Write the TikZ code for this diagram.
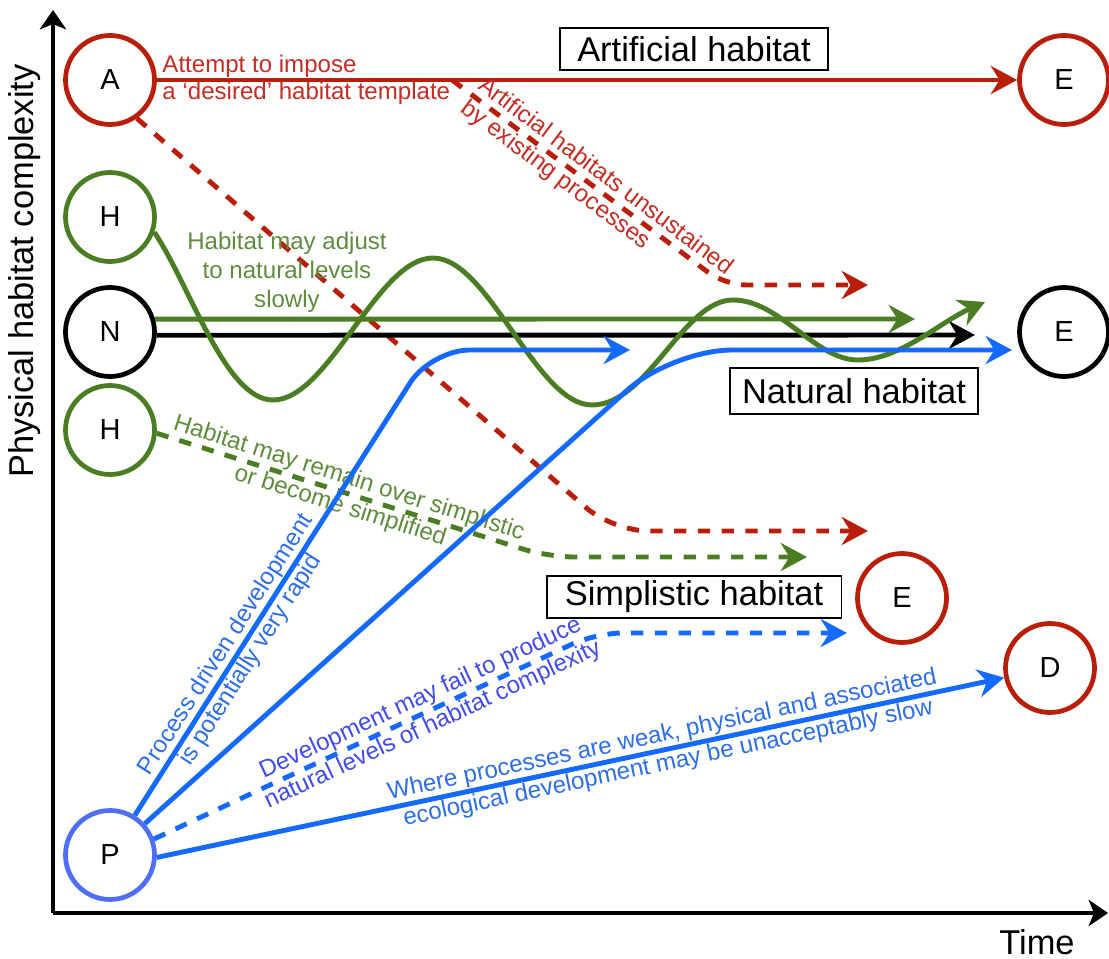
\documentclass[tikz,border=0pt]{standalone}
\usepackage{fontspec}
\setmainfont{Liberation Sans}
\usepackage{tikz}
\usetikzlibrary{arrows.meta, positioning, calc}
\definecolor{habred}{RGB}{185, 30, 10}
\definecolor{habgreen}{RGB}{75, 125, 35}
\definecolor{habblue}{RGB}{20, 105, 255}
\definecolor{procblue}{RGB}{80, 110, 245}
\definecolor{txtred}{RGB}{195, 45, 35}
\definecolor{txtgreen}{RGB}{95, 140, 60}
\definecolor{txtblue}{RGB}{45, 110, 230}
\definecolor{txtviolet}{RGB}{65, 75, 235}

\begin{document}
\begin{tikzpicture}[x=0.02cm, y=-0.02cm,
    state/.style={circle, draw, line width=2.7pt, minimum size=1.78cm,
                  inner sep=0pt, text=black, font=\fontsize{16.5}{18}\selectfont},
    region/.style={draw, line width=1.1pt, minimum height=0.84cm,
                   inner sep=0pt, font=\fontsize{19.6}{23}\selectfont},
    remark/.style={font=\fontsize{13.7}{16.5}\selectfont, align=center, inner sep=1pt},
    track/.style={line width=2.8pt, -{Stealth[length=15pt, width=16pt, inset=5pt]}},
    brokenline/.style={track, dash pattern=on 7pt off 6.5pt},
    axis/.style={line width=2.7pt, -{Stealth[length=11pt, width=15pt, inset=3pt]}}]

\useasboundingbox (0,0) rectangle (1109,959);

% Axes
\coordinate (origin) at (53,913);
\coordinate (ytip) at (53,10);
\coordinate (xtip) at (1108,913);
\draw[axis] (origin) -- (ytip);
\draw[axis] (origin) -- (xtip);
\node[rotate=90, font=\fontsize{19.6}{23}\selectfont] (complexity) at (25,271)
    {Physical habitat complexity};
\node[font=\fontsize{19.6}{23}\selectfont] (time) at (1037,942) {Time};

% Starting states
\node[state, draw=habred] (a) at (110,80) {A};
\node[state, draw=habgreen] (h1) at (110,217) {H};
\node[state, draw=black] (n) at (110,332) {N};
\node[state, draw=habgreen] (h2) at (110,430) {H};
\node[state, draw=procblue] (p) at (110,855) {P};

% End states
\node[state, draw=habred] (etop) at (1064,80) {E};
\node[state, draw=black] (emid) at (1064,332) {E};
\node[state, draw=habred] (elow) at (902,598) {E};
\node[state, draw=habred] (d) at (1050,668) {D};

% Habitat labels
\node[region, minimum width=5.36cm] (artificial) at (694,49) {Artificial habitat};
\node[region, minimum width=4.96cm, minimum height=0.92cm] (natural) at (854,391) {Natural habitat};
\node[region, minimum width=5.9cm] (simplistic) at (694,597) {Simplistic habitat};

% Free arrow ends
\coordinate (split) at (452,80);
\coordinate (fadered) at (868,285);
\coordinate (sinkred) at (868,531);
\coordinate (greentip) at (915,319);
\coordinate (wavetip) at (985,302);
\coordinate (blacktip) at (975,335);
\coordinate (rapidtip) at (630,350);
\coordinate (blueend) at (1012,350);
\coordinate (simplertip) at (807,557);
\coordinate (failtip) at (847,633);

% Artificial route
\draw[track, habred] (a) -- (etop);
\node[remark, text=txtred, align=left, right=2pt of a,
      font=\fontsize{13.7}{15.5}\selectfont] (impose)
    {Attempt to impose\\a `desired' habitat template};
\draw[brokenline, habred, rounded corners=12pt] (split)
    -- node[remark, sloped, align=left, text=txtred, pos=0.53] (unsustained)
       {Artificial habitats unsustained\\by existing processes}
    (725,285) -- (fadered);
\draw[brokenline, habred, rounded corners=20pt] (a.-55) -- (613,531) -- (sinkred);

% Natural route
\draw[track, habgreen] (n.16) -- (greentip);
\draw[track, black] (n.-4) -- (blacktip);
\draw[track, habgreen] (h1.-19) .. controls (190,285) and (225,400) .. (273,400)
    .. controls (329,400) and (377,258) .. (433,258)
    .. controls (489,258) and (536,405) .. (592,405)
    .. controls (648,405) and (683,300) .. (733,300)
    .. controls (780,300) and (815,360) .. (858,360)
    .. controls (900,360) and (940,322) .. (wavetip);
\node[remark, text=txtgreen] (adjust) at (287,272)
    {Habitat may adjust\\to natural levels\\slowly};

% Simplistic route
\draw[brokenline, habgreen, rounded corners=15pt] (h2.-4)
    -- node[remark, sloped, text=txtgreen, pos=0.48] (remain)
       {Habitat may remain over simplistic\\or become simplified}
    (548,557) -- (simplertip);

% Process driven routes
\draw[track, habblue, rounded corners=22pt] (p.58)
    -- node[remark, sloped, text=txtblue, pos=0.35] (rapid)
       {Process driven development\\is potentially very rapid}
    (431,350) -- (rapidtip);
\draw[track, habblue, rounded corners=34pt] (p.42) -- (672,350) -- (blueend);
\draw[brokenline, habblue, rounded corners=15pt] (p.20)
    -- node[remark, sloped, text=txtviolet, pos=0.617] (fail)
       {Development may fail to produce\\natural levels of habitat complexity}
    (596,633) -- (failtip);
\draw[track, habblue] (p.-3)
    -- node[remark, sloped, text=txtblue, pos=0.6] (slow)
       {Where processes are weak, physical and associated\\ecological development may be unacceptably slow}
    (d);

\end{tikzpicture}
\end{document}
